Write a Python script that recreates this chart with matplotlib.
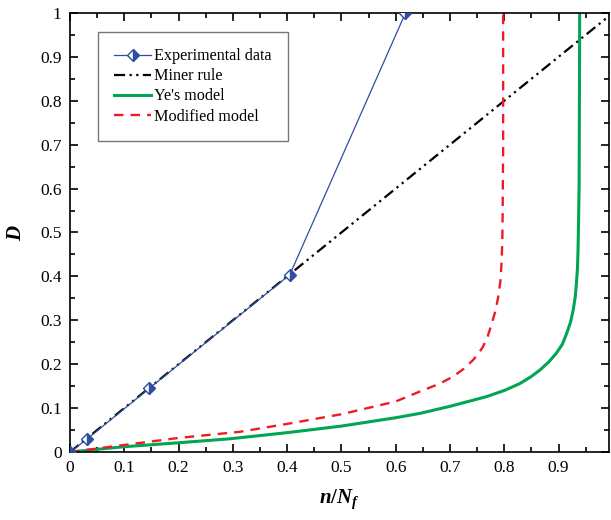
import matplotlib
matplotlib.use('Agg')
import matplotlib.pyplot as plt
from matplotlib.ticker import MultipleLocator

plt.rcParams['font.family'] = ['Liberation Serif', 'DejaVu Serif']
plt.rcParams['mathtext.fontset'] = 'custom'
plt.rcParams['mathtext.it'] = 'Liberation Serif:bold:italic'
plt.rcParams['mathtext.rm'] = 'Liberation Serif:bold'
plt.rcParams['mathtext.bf'] = 'Liberation Serif:bold'

# experimental data
exp_n = [0.0, 0.031, 0.146, 0.405, 0.618]
exp_d = [0.0, 0.029, 0.145, 0.404, 1.0]

# Miner rule
miner_n = [0.0, 1.0]
miner_d = [0.0, 1.0]

# Ye's model
ye_n = [0.0, 0.1, 0.2, 0.294, 0.4, 0.5, 0.6, 0.645, 0.7, 0.767, 0.80, 0.829,
        0.85, 0.866, 0.882, 0.896, 0.907, 0.915, 0.922, 0.927, 0.931, 0.933,
        0.935, 0.936, 0.937, 0.938, 0.9385, 0.939]
ye_d = [0.0, 0.012, 0.021, 0.030, 0.044, 0.059, 0.078, 0.088, 0.104, 0.126,
        0.140, 0.156, 0.172, 0.187, 0.205, 0.225, 0.245, 0.27, 0.295, 0.323,
        0.355, 0.384, 0.42, 0.46, 0.53, 0.61, 0.8, 1.0]

# Modified model
mod_n = [0.0, 0.05, 0.1, 0.15, 0.2, 0.313, 0.4, 0.5, 0.6, 0.651, 0.68, 0.706,
         0.726, 0.743, 0.753, 0.761, 0.77, 0.777, 0.784, 0.789, 0.793, 0.795,
         0.7965, 0.797, 0.798, 0.798]
mod_d = [0.0, 0.008, 0.016, 0.024, 0.032, 0.046, 0.064, 0.086, 0.115, 0.141,
         0.155, 0.172, 0.19, 0.21, 0.225, 0.24, 0.265, 0.293, 0.322, 0.354,
         0.39, 0.43, 0.48, 0.536, 0.688, 1.0]

fig = plt.figure(figsize=(6.11, 5.2), dpi=100)
ax = fig.add_axes([0.1146, 0.1308, 0.8821, 0.8442])

ax.plot(exp_n, exp_d, color='#2E4FA0', lw=0.9, marker='D', ms=6.5,
        fillstyle='right', markerfacecoloralt='white', markeredgecolor='#2E4FA0',
        markerfacecolor='#2E4FA0', markeredgewidth=1.0, label='Experimental data',
        zorder=3)
ax.plot(miner_n, miner_d, color='black', lw=1.6, dashes=(5, 2, 1, 2, 1, 2),
        label='Miner rule', zorder=2)
ax.plot(ye_n, ye_d, color='#00A651', lw=2.2, label="Ye's model", zorder=2)
ax.plot(mod_n, mod_d, color='#ED1C24', lw=1.7, dashes=(4, 3), label='Modified model',
        zorder=2)

ax.set_xlim(0, 0.993)
ax.set_ylim(0, 1)
ax.xaxis.set_minor_locator(MultipleLocator(0.05))
ax.yaxis.set_minor_locator(MultipleLocator(0.05))
ax.set_xticks([0, 0.1, 0.2, 0.3, 0.4, 0.5, 0.6, 0.7, 0.8, 0.9])
ax.set_xticklabels(['0', '0.1', '0.2', '0.3', '0.4', '0.5', '0.6', '0.7', '0.8', '0.9'])
ax.set_yticks([0, 0.1, 0.2, 0.3, 0.4, 0.5, 0.6, 0.7, 0.8, 0.9, 1.0])
ax.set_yticklabels(['0', '0.1', '0.2', '0.3', '0.4', '0.5', '0.6', '0.7', '0.8', '0.9', '1'])
ax.tick_params(which='both', direction='in', top=True, right=True, width=1.2,
               labelsize=12.5, pad=6)
ax.tick_params(which='major', length=6)
ax.tick_params(which='minor', length=3.5)
for s in ax.spines.values():
    s.set_linewidth(1.2)

ax.set_xlabel(r'$n/N_f$', fontsize=15, labelpad=8)
ax.set_ylabel(r'$D$', fontsize=15, labelpad=10)

leg = ax.legend(loc='upper left', bbox_to_anchor=(0.052, 0.956), fontsize=11.6,
                frameon=True, fancybox=False, edgecolor='#555555',
                handlelength=2.3, handletextpad=0.2, borderpad=1.0,
                labelspacing=0.25, borderaxespad=0)
leg.get_frame().set_linewidth(1.0)

fig.savefig('out.png', dpi=100)
